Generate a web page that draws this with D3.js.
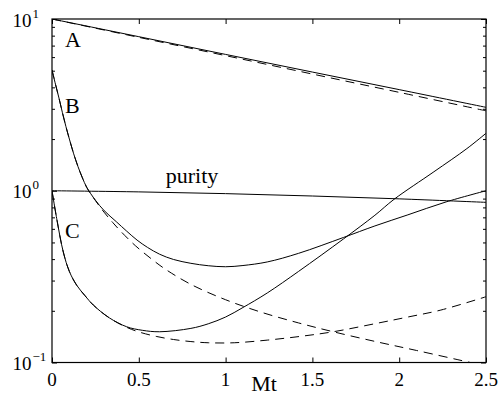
<!DOCTYPE html>
<html>
<head>
<meta charset="utf-8">
<script src="https://cdn.jsdelivr.net/npm/d3@7"></script>
<style>
  body { margin: 0; background: #fff; }
  svg text { font-family: "Liberation Serif", "Times New Roman", serif; fill: #000; }
</style>
</head>
<body>
<div id="chart"></div>
<script>
// values (y is on a log scale)
const xTicks = [0, 0.5, 1, 1.5, 2, 2.5];
const xTickLabels = ['0', '0.5', '1', '1.5', '2', '2.5'];
const yDecades = [0.1, 1, 10];
const yDecadeExp = ['\u22121', '0', '1'];

const aX = [0, 0.5, 1, 1.5, 2, 2.5];
const aSolid = [10, 7.89, 6.22, 4.91, 3.88, 3.06];
const aDashed = [10, 7.82, 6.12, 4.78, 3.74, 2.92];

const purityX = [0, 0.5, 1, 1.5, 2, 2.5];
const purity = [1.0, 0.985, 0.962, 0.932, 0.897, 0.856];

const bSolidX = [0, 0.02, 0.04, 0.06, 0.08, 0.1, 0.125, 0.15, 0.175, 0.2, 0.25, 0.3, 0.37, 0.43, 0.49, 0.55, 0.62, 0.7, 0.8, 0.9, 1.0, 1.1, 1.24, 1.42, 1.68, 1.86, 2.05, 2.27, 2.5];
const bSolid = [5.05, 4.17, 3.47, 2.85, 2.37, 2.0, 1.64, 1.38, 1.19, 1.047, 0.881, 0.767, 0.661, 0.582, 0.516, 0.468, 0.427, 0.398, 0.378, 0.366, 0.361, 0.367, 0.385, 0.432, 0.535, 0.624, 0.724, 0.861, 1.0];

const bDashedX = [0, 0.02, 0.04, 0.06, 0.08, 0.1, 0.125, 0.15, 0.175, 0.2, 0.25, 0.3, 0.35, 0.4, 0.48, 0.57, 0.65, 0.8, 1.0, 1.2, 1.42, 1.62, 1.87, 2.1, 2.41, 2.5];
const bDashed = [5.05, 4.17, 3.47, 2.85, 2.37, 2.0, 1.64, 1.38, 1.19, 1.045, 0.877, 0.75, 0.653, 0.575, 0.479, 0.403, 0.351, 0.285, 0.232, 0.197, 0.17, 0.151, 0.132, 0.1175, 0.1, 0.0955];

const cSolidX = [0, 0.027, 0.065, 0.1, 0.142, 0.19, 0.238, 0.33, 0.43, 0.52, 0.62, 0.8, 0.9, 1.0, 1.1, 1.24, 1.42, 1.68, 1.86, 1.97, 2.2, 2.39, 2.5];
const cSolid = [1.0, 0.69, 0.44, 0.339, 0.282, 0.245, 0.216, 0.182, 0.1615, 0.154, 0.151, 0.158, 0.168, 0.184, 0.209, 0.254, 0.339, 0.525, 0.72, 0.891, 1.29, 1.76, 2.16];

const cDashedX = [0, 0.027, 0.065, 0.1, 0.142, 0.19, 0.238, 0.33, 0.43, 0.5, 0.6, 0.7, 0.8, 0.9, 1.05, 1.24, 1.43, 1.62, 1.87, 2.05, 2.24, 2.5];
const cDashed = [1.0, 0.69, 0.44, 0.339, 0.282, 0.245, 0.216, 0.182, 0.1603, 0.1507, 0.1419, 0.1361, 0.1324, 0.1303, 0.1303, 0.135, 0.1419, 0.151, 0.169, 0.184, 0.202, 0.2415];

const curveLabels = ['A', 'B', 'C', 'purity'];
const curveLabelX = [0.075, 0.075, 0.075, 0.655];
const curveLabelY = [6.9, 2.82, 0.528, 1.104];

const W = 500, H = 396;
const plotL = 52, plotR = 486, plotT = 19, plotB = 362.5;

const x = d3.scaleLinear().domain([0, 2.5]).range([plotL, plotR]);
const y = d3.scaleLog().domain([0.1, 10]).range([plotB, plotT]);

const svg = d3.select('#chart').append('svg')
  .attr('width', W)
  .attr('height', H);

svg.append('defs').append('clipPath')
  .attr('id', 'plot-clip')
  .append('rect')
  .attr('x', plotL).attr('y', plotT)
  .attr('width', plotR - plotL).attr('height', plotB - plotT);

// axes: ticks pointing inward on all four sides
const fmtNone = () => '';
const minorVals = [];
[0.1, 1].forEach(d => { for (let k = 2; k <= 9; k++) minorVals.push(d * k); });

svg.append('g')
  .attr('transform', `translate(0,${plotB})`)
  .call(d3.axisBottom(x).tickValues(xTicks).tickFormat(fmtNone).tickSizeInner(-5).tickSizeOuter(0));
svg.append('g')
  .attr('transform', `translate(0,${plotT})`)
  .call(d3.axisTop(x).tickValues(xTicks).tickFormat(fmtNone).tickSizeInner(-5).tickSizeOuter(0));
svg.append('g')
  .attr('transform', `translate(${plotL},0)`)
  .call(d3.axisLeft(y).tickValues(yDecades).tickFormat(fmtNone).tickSizeInner(-5).tickSizeOuter(0));
svg.append('g')
  .attr('transform', `translate(${plotR},0)`)
  .call(d3.axisRight(y).tickValues(yDecades).tickFormat(fmtNone).tickSizeInner(-5).tickSizeOuter(0));
svg.append('g')
  .attr('transform', `translate(${plotL},0)`)
  .call(d3.axisLeft(y).tickValues(minorVals).tickFormat(fmtNone).tickSizeInner(-3).tickSizeOuter(0));
svg.append('g')
  .attr('transform', `translate(${plotR},0)`)
  .call(d3.axisRight(y).tickValues(minorVals).tickFormat(fmtNone).tickSizeInner(-3).tickSizeOuter(0));

svg.selectAll('.domain').remove();
svg.selectAll('.tick line').attr('stroke', '#000').attr('stroke-width', 1);

// frame
svg.append('rect')
  .attr('x', plotL).attr('y', plotT)
  .attr('width', plotR - plotL).attr('height', plotB - plotT)
  .attr('fill', 'none')
  .attr('stroke', '#000')
  .attr('stroke-width', 1.2);

// tick labels
svg.append('g').selectAll('text')
  .data(xTicks)
  .enter()
  .append('text')
  .attr('x', d => x(d))
  .attr('y', 386)
  .attr('text-anchor', 'middle')
  .attr('font-size', '19px')
  .text((d, i) => xTickLabels[i]);

const yLab = svg.append('g').selectAll('text')
  .data(yDecades)
  .enter()
  .append('text')
  .attr('x', 12.5)
  .attr('y', d => y(d) + 7.5)
  .attr('font-size', '19px');
yLab.append('tspan').text('10');
yLab.append('tspan')
  .attr('dy', -9)
  .attr('dx', 1)
  .attr('font-size', '13px')
  .text((d, i) => yDecadeExp[i]);

svg.append('text')
  .attr('x', 264)
  .attr('y', 391)
  .attr('text-anchor', 'middle')
  .attr('font-size', '22px')
  .text('Mt');

// curves
const series = [
  { xs: aX, ys: aSolid, dash: null },
  { xs: aX, ys: aDashed, dash: '9,6' },
  { xs: purityX, ys: purity, dash: null },
  { xs: bSolidX, ys: bSolid, dash: null },
  { xs: bDashedX, ys: bDashed, dash: '9,6' },
  { xs: cSolidX, ys: cSolid, dash: null },
  { xs: cDashedX, ys: cDashed, dash: '9,6' }
];

const line = d3.line()
  .x(d => x(d[0]))
  .y(d => y(d[1]))
  .curve(d3.curveCatmullRom.alpha(0.5));

svg.append('g')
  .attr('clip-path', 'url(#plot-clip)')
  .selectAll('path')
  .data(series)
  .enter()
  .append('path')
  .attr('d', s => line(s.xs.map((v, i) => [v, s.ys[i]])))
  .attr('fill', 'none')
  .attr('stroke', '#000')
  .attr('stroke-width', 1)
  .attr('stroke-dasharray', s => s.dash);

// curve labels
svg.append('g').selectAll('text')
  .data(curveLabels)
  .enter()
  .append('text')
  .attr('x', (d, i) => x(curveLabelX[i]))
  .attr('y', (d, i) => y(curveLabelY[i]))
  .attr('font-size', '22px')
  .text(d => d);
</script>
</body>
</html>
